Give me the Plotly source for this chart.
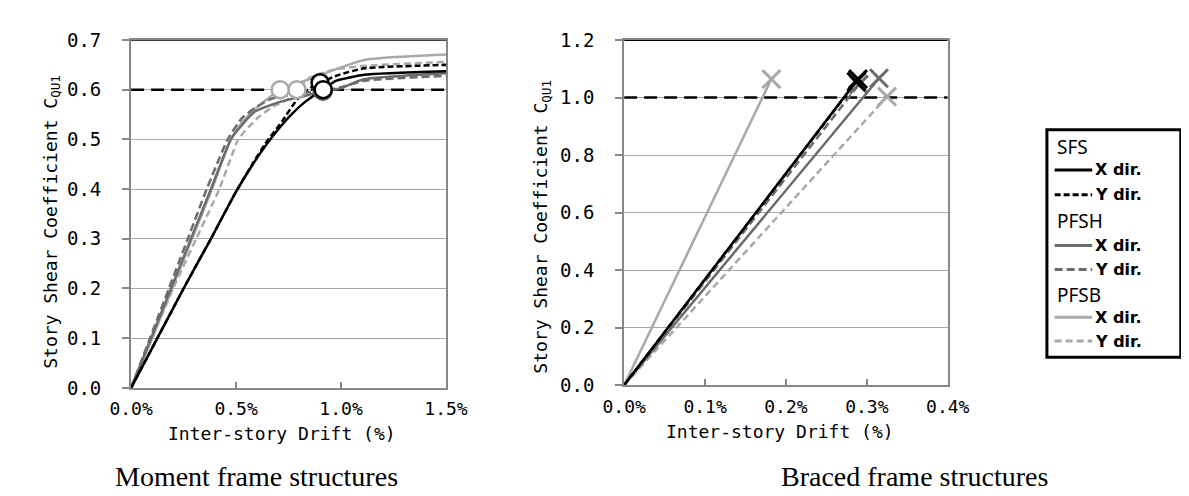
import plotly.graph_objects as go

W, H = 1189, 496

# ---------------- data ----------------
# Moment frame structures (left): inter-story drift (%) vs story shear coefficient
sfs_x_drift = [0, 0.125, 0.25, 0.38, 0.50, 0.58, 0.64, 0.70, 0.77, 0.83, 0.87, 0.915, 0.97, 1.11, 1.5]
sfs_x_c     = [0, 0.10, 0.20, 0.30, 0.395, 0.45, 0.487, 0.520, 0.553, 0.576, 0.588, 0.600, 0.617, 0.630, 0.637]
sfs_y_drift = [0, 0.125, 0.25, 0.38, 0.50, 0.58, 0.64, 0.72, 0.79, 0.84, 0.90, 0.99, 1.11, 1.5]
sfs_y_c     = [0, 0.10, 0.20, 0.30, 0.395, 0.452, 0.492, 0.537, 0.580, 0.600, 0.614, 0.630, 0.643, 0.650]
pfsh_x_drift = [0, 0.095, 0.19, 0.285, 0.38, 0.475, 0.52, 0.59, 0.67, 0.74, 0.83, 0.915, 0.99, 1.11, 1.5]
pfsh_x_c     = [0, 0.10, 0.20, 0.30, 0.40, 0.50, 0.525, 0.556, 0.570, 0.579, 0.588, 0.597, 0.602, 0.621, 0.633]
pfsh_y_drift = [0, 0.09, 0.18, 0.27, 0.36, 0.46, 0.53, 0.60, 0.67, 0.75, 0.83, 0.91, 1.0, 1.11, 1.5]
pfsh_y_c     = [0, 0.10, 0.20, 0.30, 0.40, 0.50, 0.544, 0.566, 0.582, 0.589, 0.594, 0.598, 0.605, 0.618, 0.628]
pfsb_x_drift = [0, 0.10, 0.195, 0.29, 0.385, 0.475, 0.53, 0.60, 0.66, 0.71, 0.82, 1.11, 1.5]
pfsb_x_c     = [0, 0.10, 0.20, 0.30, 0.40, 0.50, 0.535, 0.565, 0.585, 0.600, 0.617, 0.660, 0.671]
pfsb_y_drift = [0, 0.10, 0.20, 0.31, 0.42, 0.51, 0.545, 0.605, 0.675, 0.74, 0.79, 0.85, 0.96, 1.11, 1.5]
pfsb_y_c     = [0, 0.10, 0.20, 0.30, 0.40, 0.50, 0.518, 0.544, 0.566, 0.579, 0.598, 0.624, 0.640, 0.648, 0.656]

# circle marks on the moment-frame curves
circle_drift = [0.915, 0.90, 0.915, 0.91, 0.71, 0.79]
circle_c     = [0.600, 0.614, 0.597, 0.598, 0.600, 0.600]

# Braced frame structures (right): straight lines to the final point (x marks)
brace_drift = [0.289, 0.287, 0.315, 0.290, 0.182, 0.325]
brace_c     = [1.064, 1.055, 1.067, 1.045, 1.064, 1.003]

moment_limit = 0.6
brace_limit = 1.0

groups = ["SFS", "PFSH", "PFSB"]
dirs = ["X dir.", "Y dir."]

left_yticks = [0.0, 0.1, 0.2, 0.3, 0.4, 0.5, 0.6, 0.7]
left_xticks = [0.0, 0.5, 1.0, 1.5]
left_xlabels = ["0.0%", "0.5%", "1.0%", "1.5%"]
right_yticks = [0.0, 0.2, 0.4, 0.6, 0.8, 1.0, 1.2]
right_xticks = [0.0, 0.1, 0.2, 0.3, 0.4]
right_xlabels = ["0.0%", "0.1%", "0.2%", "0.3%", "0.4%"]

y_title = "Story Shear Coefficient C<sub>QU1</sub>"
x_title = "Inter-story Drift (%)"
subtitles = ["Moment frame structures", "Braced frame structures"]

# ---------------- styles ----------------
BLACK, DARK, LIGHT = "#000000", "#6b6b6b", "#a9a9a9"
styles = [
    dict(color=BLACK, dash="6px,3px", solid=True),
    dict(color=BLACK, dash="6px,3px", solid=False),
    dict(color=DARK, dash="8px,4px", solid=True),
    dict(color=DARK, dash="8px,4px", solid=False),
    dict(color=LIGHT, dash="7px,4px", solid=True),
    dict(color=LIGHT, dash="7px,4px", solid=False),
]
def dash_of(st):
    return "solid" if st["solid"] else st["dash"]

LW = 2.5

left_series = [
    (sfs_x_drift, sfs_x_c), (sfs_y_drift, sfs_y_c),
    (pfsh_x_drift, pfsh_x_c), (pfsh_y_drift, pfsh_y_c),
    (pfsb_x_drift, pfsb_x_c), (pfsb_y_drift, pfsb_y_c),
]
names = [f"{g} {d}" for g in groups for d in dirs]

fig = go.Figure()

# limit lines
fig.add_trace(go.Scatter(x=[0, 1.5], y=[moment_limit, moment_limit], mode="lines",
                         line=dict(color="black", width=2.5, dash="13px,7px"),
                         xaxis="x", yaxis="y", showlegend=False, hoverinfo="skip"))
fig.add_trace(go.Scatter(x=[0, 0.4], y=[brace_limit, brace_limit], mode="lines",
                         line=dict(color="black", width=2.5, dash="13px,7px"),
                         xaxis="x2", yaxis="y2", showlegend=False, hoverinfo="skip"))

order = [5, 4, 3, 2, 1, 0]
for i in order:
    xs, ys = left_series[i]
    st = styles[i]
    fig.add_trace(go.Scatter(x=xs, y=ys, mode="lines", name=names[i],
                             line=dict(color=st["color"], width=LW, dash=dash_of(st),
                                       shape="spline", smoothing=0.5),
                             xaxis="x", yaxis="y", showlegend=False))
for i in order:
    st = styles[i]
    fig.add_trace(go.Scatter(x=[circle_drift[i]], y=[circle_c[i]], mode="markers",
                             marker=dict(symbol="circle", size=17, color="white",
                                         line=dict(color=st["color"], width=2.5)),
                             xaxis="x", yaxis="y", showlegend=False))
for i in order:
    st = styles[i]
    fig.add_trace(go.Scatter(x=[0, brace_drift[i]], y=[0, brace_c[i]], mode="lines",
                             line=dict(color=st["color"], width=LW, dash=dash_of(st)),
                             xaxis="x2", yaxis="y2", showlegend=False))
for i in order:
    st = styles[i]
    fig.add_trace(go.Scatter(x=[brace_drift[i]], y=[brace_c[i]], mode="markers",
                             marker=dict(symbol="x-thin", size=18,
                                         line=dict(color=st["color"], width=3)),
                             xaxis="x2", yaxis="y2", showlegend=False))

def PX(x):
    return x / W

def PY(y):
    return 1 - y / H

MONO = "DejaVu Sans Mono"
AX = "#878787"
GRID = "#a8a8a8"

common_x = dict(showline=True, linecolor=AX, linewidth=2, mirror=True,
                ticks="inside", ticklen=6, tickcolor=AX, tickwidth=1.5,
                showgrid=False, zeroline=False,
                tickfont=dict(family=MONO, size=18, color="black"),
                tickmode="array", ticklabelstandoff=4)
common_y = dict(showline=True, linecolor=AX, linewidth=2, mirror=True,
                ticks="outside", ticklen=7, tickcolor=AX, tickwidth=1.5,
                showgrid=True, gridcolor=GRID, gridwidth=1.3, zeroline=False,
                tickfont=dict(family=MONO, size=19, color="black"),
                tickformat=".1f", ticklabelstandoff=17)

fig.update_layout(
    width=W, height=H, margin=dict(l=0, r=0, t=0, b=0),
    paper_bgcolor="white", plot_bgcolor="white", showlegend=False,
    xaxis=dict(domain=[PX(105), PX(432)], range=[0, 1.5], tickvals=left_xticks,
               ticktext=left_xlabels, anchor="y", **common_x),
    yaxis=dict(domain=[PY(386), PY(22)], range=[0, 0.7], tickvals=left_yticks, anchor="x", **common_y),
    xaxis2=dict(domain=[PX(617), PX(953)], range=[0, 0.4], tickvals=right_xticks,
                ticktext=right_xlabels, anchor="y2", **common_x),
    yaxis2=dict(domain=[PY(383), PY(22)], range=[0, 1.2], tickvals=right_yticks, anchor="x2", **common_y),
)

shapes = []
shapes.append(dict(type="line", xref="x", yref="y", x0=0, x1=1.5, y0=0.7, y1=0.7,
                   line=dict(color="#404040", width=2)))
shapes.append(dict(type="line", xref="x2", yref="y2", x0=0, x1=0.4, y0=1.2, y1=1.2,
                   line=dict(color="black", width=2)))

annotations = []
for cx, cy in [(22, 212), (532, 217)]:
    annotations.append(dict(text=y_title, x=PX(cx), y=PY(cy), xref="paper", yref="paper",
                            textangle=-90, showarrow=False, xanchor="center", yanchor="middle",
                            font=dict(family=MONO, size=18, color="black")))
for cx, cy in [(262, 434), (779, 432)]:
    annotations.append(dict(text=x_title, x=PX(cx), y=PY(cy), xref="paper", yref="paper",
                            showarrow=False, xanchor="center", yanchor="middle",
                            font=dict(family=MONO, size=18, color="black")))
for txt, cx in zip(subtitles, [235, 918]):
    annotations.append(dict(text=txt, x=PX(cx), y=PY(479), xref="paper", yref="paper",
                            showarrow=False, xanchor="center", yanchor="middle",
                            font=dict(family="Liberation Serif", size=28, color="black")))

# legend box (drawn manually)
shapes.append(dict(type="rect", xref="paper", yref="paper", x0=PX(1056), x1=PX(1195),
                   y0=PY(354), y1=PY(116), line=dict(color="black", width=3), fillcolor="white",
                   layer="below"))
row_y = [134, 158, 184, 211, 237, 262, 289, 312, 337]
r = 0
for gi, g in enumerate(groups):
    annotations.append(dict(text=g, x=PX(1064), y=PY(row_y[r]), xref="paper", yref="paper",
                            showarrow=False, xanchor="left", yanchor="middle",
                            font=dict(family="Noto Sans", size=19, color="black")))
    r += 1
    for di, d in enumerate(dirs):
        st = styles[gi * 2 + di]
        yy = row_y[r]
        shapes.append(dict(type="line", xref="paper", yref="paper", x0=PX(1064), x1=PX(1103),
                           y0=PY(yy), y1=PY(yy),
                           line=dict(color=st["color"], width=3, dash=dash_of(st))))
        annotations.append(dict(text="<b>" + d + "</b>", x=PX(1104), y=PY(yy), xref="paper", yref="paper",
                                showarrow=False, xanchor="left", yanchor="middle",
                                font=dict(family="DejaVu Sans", size=16, color="black")))
        r += 1

fig.update_layout(shapes=shapes, annotations=annotations)
fig.write_html("out.html")
